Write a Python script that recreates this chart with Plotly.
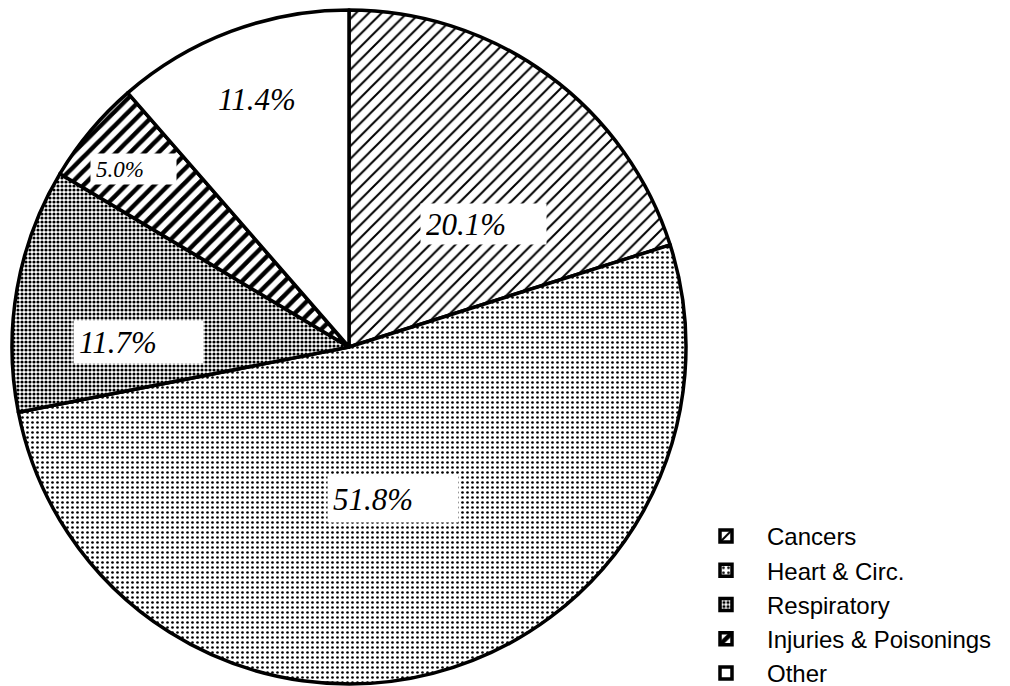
import plotly.graph_objects as go

# Causes of death, share of total (%)
causes = ["Cancers", "Heart & Circ.", "Respiratory", "Injuries & Poisonings", "Other"]
shares = [20.1, 51.8, 11.7, 5.0, 11.4]

# Fill patterns for each slice (black ink on white paper)
pattern_shapes = ["/", ".", ".", "/", ""]
pattern_sizes = [9, 5, 4, 10, 8]
pattern_solidity = [0.22, 0.22, 0.5, 0.45, 0.0]

W, H = 1010, 686


def px(x):
    return x / W


def py(y):
    return 1 - y / H


fig = go.Figure(
    go.Pie(
        labels=causes,
        values=shares,
        sort=False,
        direction="clockwise",
        rotation=0,
        textinfo="none",
        hoverinfo="label+percent",
        marker=dict(
            colors=["white"] * len(causes),
            line=dict(color="black", width=3.5),
            pattern=dict(
                shape=pattern_shapes,
                size=pattern_sizes,
                solidity=pattern_solidity,
                fgcolor="black",
                bgcolor="white",
                fillmode="replace",
            ),
        ),
        domain=dict(x=[px(12), px(686)], y=[py(684), py(10)]),
    )
)

# Value labels: (box left, box top, box width, box height, font size, boxed)
label_boxes = [
    (420, 203, 125, 40, 31, True),   # Cancers
    (327, 475, 130, 46, 31, True),   # Heart & Circ.
    (73, 320, 129, 42, 31, True),    # Respiratory
    (90, 153, 85, 30, 23, True),     # Injuries & Poisonings
    (212, 78, 95, 40, 31, False),    # Other
]

PAD = 5
for value, (bx, by, bw, bh, fs, boxed) in zip(shares, label_boxes):
    fig.add_annotation(
        x=px(bx), y=py(by), xref="paper", yref="paper",
        xanchor="left", yanchor="top",
        width=bw - 2 * PAD, height=bh - 2 * PAD,
        align="left", valign="middle",
        text=f"{value:.1f}%",
        showarrow=False,
        bgcolor="white" if boxed else "rgba(0,0,0,0)",
        borderpad=PAD,
        font=dict(family="Liberation Serif", size=fs, color="black", style="italic"),
    )

fig.update_layout(
    width=W, height=H,
    margin=dict(l=0, r=0, t=0, b=0, autoexpand=False),
    paper_bgcolor="white",
    plot_bgcolor="white",
    showlegend=True,
    legend=dict(
        x=px(685), y=py(514), xanchor="left", yanchor="top",
        font=dict(family="Liberation Sans", size=24, color="black"),
        itemwidth=72,
        bgcolor="rgba(0,0,0,0)",
        traceorder="normal",
    ),
)

fig.write_html("out.html")
